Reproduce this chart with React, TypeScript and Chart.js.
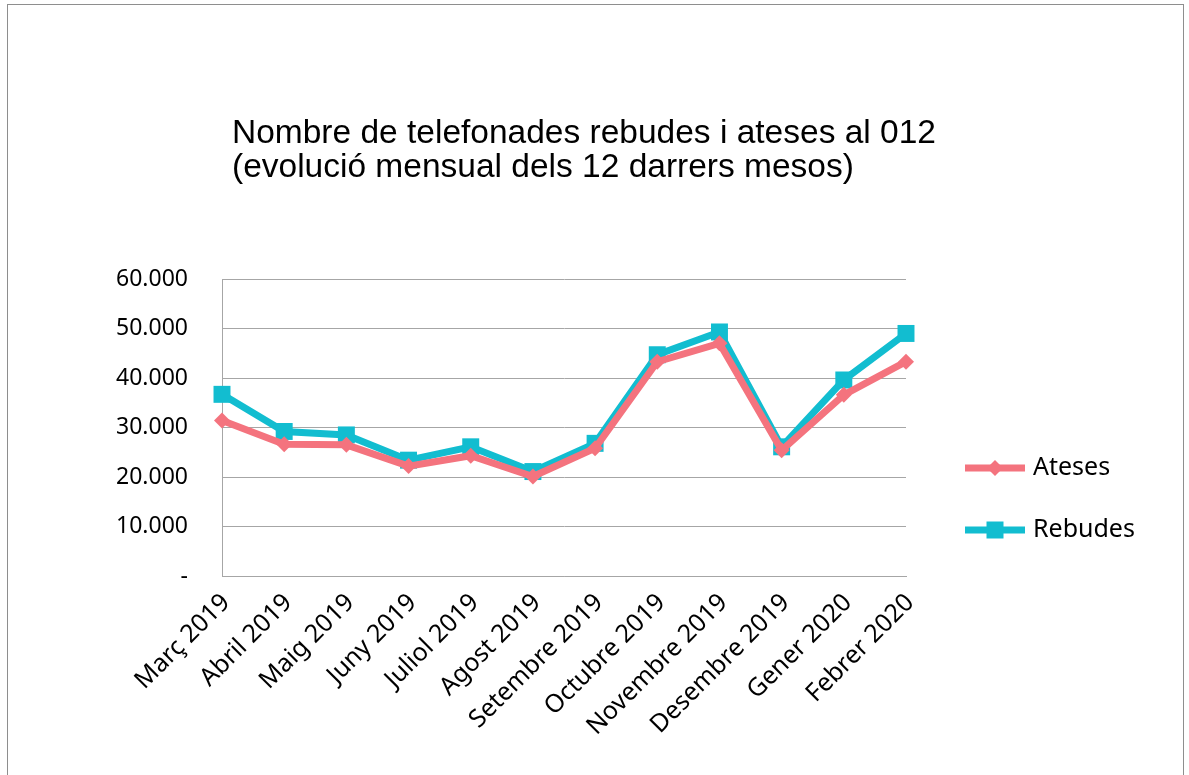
import React, { useEffect, useRef } from 'react';
import { Chart, registerables } from 'chart.js';

Chart.register(...registerables);

const categories = [
  'Març 2019',
  'Abril 2019',
  'Maig 2019',
  'Juny 2019',
  'Juliol 2019',
  'Agost 2019',
  'Setembre 2019',
  'Octubre 2019',
  'Novembre 2019',
  'Desembre 2019',
  'Gener 2020',
  'Febrer 2020',
];
const ateses = [31400, 26600, 26500, 22200, 24300, 20100, 25800, 43300, 47000, 25400, 36600, 43300];
const rebudes = [36700, 29200, 28500, 23400, 26100, 21100, 26800, 44700, 49300, 26100, 39600, 49000];
const seriesNames = ['Ateses', 'Rebudes'];
const seriesColors = ['#F4737E', '#12BDD0'];
const yMin = 0;
const yMax = 60000;
const yStep = 10000;
const titleLines = [
  'Nombre de telefonades rebudes i ateses al 012',
  '(evolució mensual dels 12 darrers mesos)',
];

const fmt = (v: number) => {
  if (v === 0) return '-';
  return Math.round(v)
    .toString()
    .replace(/\B(?=(\d{3})+(?!\d))/g, '.');
};

const decorPlugin = {
  id: 'decor',
  afterDraw(chart: any) {
    const ctx = chart.ctx;
    ctx.save();
    // outer frame
    ctx.strokeStyle = '#8e8e8e';
    ctx.lineWidth = 1;
    ctx.strokeRect(7.5, 4.5, 1176, 800);
    // title
    ctx.fillStyle = '#000';
    ctx.font = '33.5px "Liberation Sans", Arial, sans-serif';
    ctx.textAlign = 'left';
    ctx.textBaseline = 'alphabetic';
    ctx.fillText(titleLines[0], 232, 143);
    ctx.fillText(titleLines[1], 232, 177);
    // legend
    const ys = [468, 530];
    chart.data.datasets.forEach((ds: any, i: number) => {
      const y = ys[i];
      ctx.strokeStyle = ds.borderColor;
      ctx.lineWidth = 7;
      ctx.lineCap = 'butt';
      ctx.beginPath();
      ctx.moveTo(965, y);
      ctx.lineTo(1025, y);
      ctx.stroke();
      ctx.fillStyle = ds.borderColor;
      ctx.beginPath();
      if (ds.pointStyle === 'rectRot') {
        const r = 8;
        ctx.moveTo(995, y - r);
        ctx.lineTo(995 + r, y);
        ctx.lineTo(995, y + r);
        ctx.lineTo(995 - r, y);
        ctx.closePath();
      } else {
        ctx.rect(995 - 8.5, y - 8.5, 17, 17);
      }
      ctx.fill();
      ctx.fillStyle = '#000';
      ctx.font = '25px "Noto Sans", sans-serif';
      ctx.textBaseline = 'middle';
      ctx.fillText(ds.label, 1033, y);
    });
    ctx.restore();
  },
};

export default function App() {
  const ref = useRef<HTMLCanvasElement | null>(null);

  useEffect(() => {
    if (!ref.current) return;
    const gridColor = '#a6a6a6';
    const chart = new Chart(ref.current, {
      type: 'line',
      data: {
        labels: categories,
        datasets: [
          {
            label: seriesNames[0],
            data: ateses,
            borderColor: seriesColors[0],
            backgroundColor: seriesColors[0],
            borderWidth: 7,
            pointStyle: 'rectRot',
            pointRadius: 8,
            pointBorderWidth: 0,
            tension: 0,
            clip: false as any,
          },
          {
            label: seriesNames[1],
            data: rebudes,
            borderColor: seriesColors[1],
            backgroundColor: seriesColors[1],
            borderWidth: 7,
            pointStyle: 'rect',
            pointRadius: 12,
            pointBorderWidth: 0,
            tension: 0,
            clip: false as any,
          },
        ],
      },
      options: {
        responsive: false,
        animation: false,
        devicePixelRatio: 1,
        layout: { padding: { top: 279, right: 283, left: 0, bottom: 0 } },
        plugins: {
          legend: { display: false },
          title: { display: false },
          tooltip: { enabled: false },
        },
        scales: {
          x: {
            offset: false,
            grid: { display: false, drawTicks: false },
            border: { display: true, color: gridColor, width: 1 },
            ticks: {
              autoSkip: false,
              maxRotation: 45,
              minRotation: 45,
              padding: 12,
              labelOffset: 4,
              color: '#000',
              font: { family: '"Noto Sans", sans-serif', size: 25 },
            },
            afterFit: (s: any) => {
              s.height = 199;
            },
          },
          y: {
            min: yMin,
            max: yMax,
            grid: { color: gridColor, drawTicks: false, lineWidth: 1 },
            border: { display: true, color: gridColor, width: 1 },
            ticks: {
              stepSize: yStep,
              padding: 34,
              color: '#000',
              font: { family: '"Noto Sans", sans-serif', size: 23 },
              callback: (v: any) => fmt(Number(v)),
            },
            afterFit: (s: any) => {
              s.width = 222;
            },
          },
        },
      },
      plugins: [decorPlugin],
    });
    return () => chart.destroy();
  }, []);

  return (
    <div style={{ position: 'absolute', left: 0, top: 0, width: 1189, height: 775, background: '#fff' }}>
      <canvas ref={ref} width={1189} height={775} style={{ width: 1189, height: 775, display: 'block' }} />
    </div>
  );
}
